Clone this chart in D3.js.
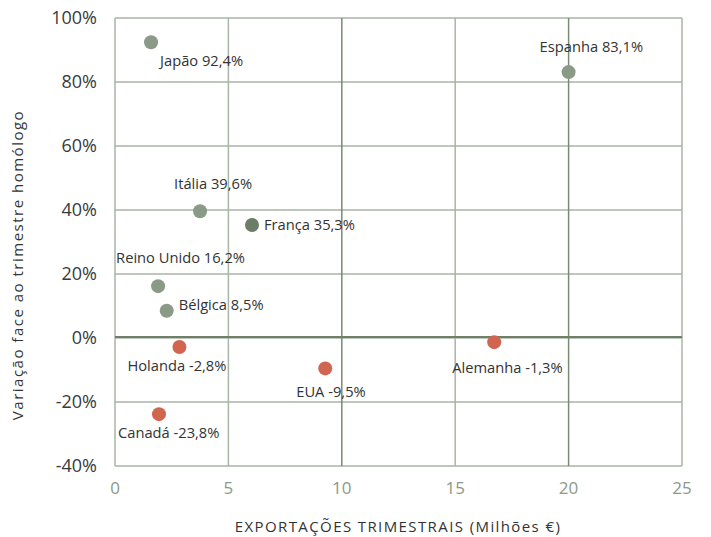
<!DOCTYPE html>
<meta charset="utf-8">
<script src="https://d3js.org/d3.v7.min.js"></script>
<style>
	body{
		margin:0;
		background:#fff;
		font-family: 'Open Sans', sans-serif;
	}
	.tickY{ font-size:18px; fill:#3a3a3a; }
	.tickX{ font-size:17px; fill:#8a9a87; }
	.lbl{ font-size:14.7px; fill:#333; }
</style>
<div id="chart"></div>
<script>
	// data
	var countries = ["Japão","Espanha","Itália","França","Reino Unido","Bélgica","Holanda","EUA","Canadá","Alemanha"]
	var exports   = [1.59, 20.0, 3.75, 6.04, 1.9, 2.28, 2.84, 9.27, 1.94, 16.72]
	var change    = [92.4, 83.1, 39.6, 35.3, 16.2, 8.5, -2.8, -9.5, -23.8, -1.3]
	// label offsets relative to the dot
	var labelDx = [9, -29, -26, 12, -42, 12, -52, -29, -41, -42]
	var labelDy = [24, -20, -22, 5, -23, -1, 24, 29, 24, 31]
	var xTicks = [0,5,10,15,20,25]
	var yTicks = [-40,-20,0,20,40,60,80,100]

	var w = 711, h = 537
	var pLeft = 115, pRight = 682, pTop = 18, pBottom = 466

	var svg = d3.select("#chart").append("svg").attr("width",w).attr("height",h)

	var xScale = d3.scaleLinear().domain([0,25]).range([pLeft,pRight])
	var yScale = d3.scaleLinear().domain([-40,100]).range([pBottom,pTop])

	// grid
	svg.selectAll(".hgrid").data(yTicks).enter().append("line")
		.attr("x1",pLeft).attr("x2",pRight)
		.attr("y1",function(d){return yScale(d)}).attr("y2",function(d){return yScale(d)})
		.attr("stroke","#a9b5a5")
		.attr("stroke-width",1.5)
	svg.selectAll(".vgrid").data(xTicks).enter().append("line")
		.attr("y1",pTop).attr("y2",pBottom)
		.attr("x1",function(d){return xScale(d)}).attr("x2",function(d){return xScale(d)})
		.attr("stroke",function(d){return (d==10||d==20) ? "#7a8a75" : "#a9b5a5"})
		.attr("stroke-width",1.5)
	// zero line on top
	svg.append("line").attr("x1",pLeft).attr("x2",pRight)
		.attr("y1",yScale(0)-1).attr("y2",yScale(0)-1)
		.attr("stroke","#6f7f6a").attr("stroke-width",2.2)

	// tick labels
	svg.selectAll(".ty").data(yTicks).enter().append("text")
		.attr("class","tickY")
		.attr("x",97).attr("y",function(d){return yScale(d)+6})
		.attr("text-anchor","end")
		.text(function(d){return d+"%"})
	svg.selectAll(".tx").data(xTicks).enter().append("text")
		.attr("class","tickX")
		.attr("x",function(d){return xScale(d)}).attr("y",494)
		.attr("text-anchor","middle")
		.text(function(d){return d})

	// axis titles
	svg.append("text").attr("x",398).attr("y",532).attr("text-anchor","middle")
		.style("font-size","15px").style("fill","#333").style("letter-spacing","1.4px")
		.text("EXPORTAÇÕES TRIMESTRAIS (Milhões €)")
	svg.append("text").attr("transform","translate(23,265) rotate(-90)").attr("text-anchor","middle")
		.style("font-size","15px").style("fill","#333").style("letter-spacing","1.5px")
		.text("Variação face ao trimestre homólogo")

	// dots
	svg.selectAll(".dot").data(countries).enter().append("circle")
		.attr("r",7)
		.attr("cx",function(d,i){return xScale(exports[i])})
		.attr("cy",function(d,i){return yScale(change[i])})
		.attr("fill",function(d,i){
			if(change[i]<0) return "#d06550"
			if(d=="França") return "#6b7d66"
			return "#8b9a87"
		})

	// labels
	svg.selectAll(".lbl").data(countries).enter().append("text")
		.attr("class","lbl")
		.attr("x",function(d,i){return xScale(exports[i])+labelDx[i]})
		.attr("y",function(d,i){return yScale(change[i])+labelDy[i]})
		.text(function(d,i){return d+" "+String(change[i]).replace(".",",")+"%"})
</script>
